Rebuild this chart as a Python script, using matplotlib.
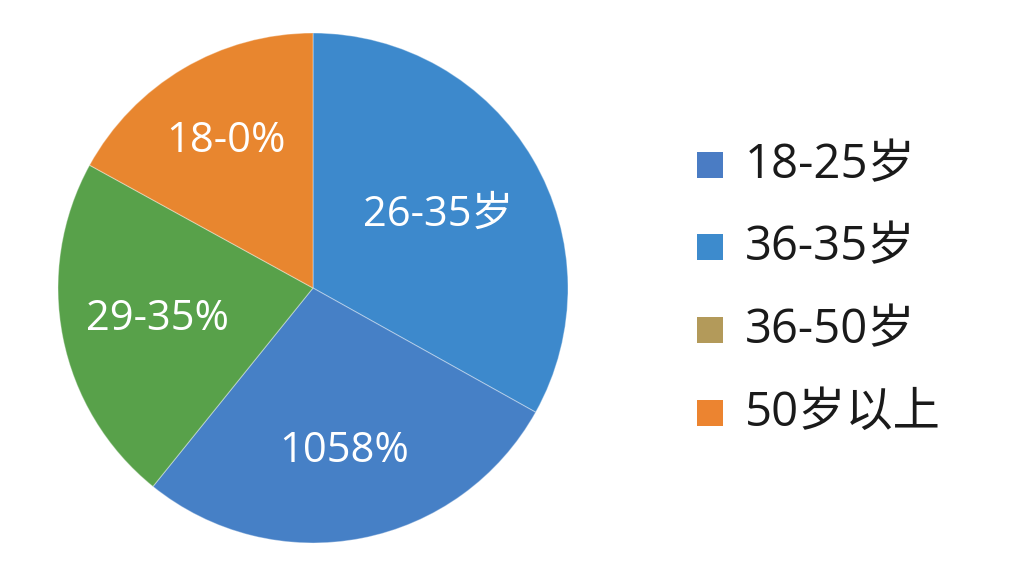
import numpy as np
import matplotlib
matplotlib.use("Agg")
import matplotlib.pyplot as plt
from matplotlib.patches import Rectangle

plt.rcParams['font.family'] = ['Open Sans', 'Noto Sans CJK SC', 'DejaVu Sans']

# Data
slice_labels = ["26-35岁", "1058%", "29-35%", "18-0%"]
slice_values = [33.1, 27.7, 22.2, 17.0]
slice_colors = ["#3d89cc", "#4680c6", "#58a14a", "#e8862f"]
label_dist = [0.57, 0.65, 0.62, 0.67]

legend_labels = ["18-25岁", "36-35岁", "36-50岁", "50岁以上"]
legend_colors = ["#4a7cc4", "#3d8bcd", "#b39a5a", "#ec8430"]

W, H = 1024, 576
fig = plt.figure(figsize=(W / 100, H / 100), dpi=100)
fig.patch.set_facecolor("white")

# pie axes: center (313, 288), radius 255 px
cx, cy, r = 313, 288, 255
ax = fig.add_axes([(cx - r) / W, (H - cy - r) / H, 2 * r / W, 2 * r / H])
wedges, _ = ax.pie(slice_values, colors=slice_colors, startangle=90,
                   counterclock=False, radius=1.0,
                   wedgeprops=dict(edgecolor=(1, 1, 1, 0.35), linewidth=0.8))
ax.set_xlim(-1, 1)
ax.set_ylim(-1, 1)
ax.set_aspect("equal")
ax.axis("off")

for w, lab, d in zip(wedges, slice_labels, label_dist):
    th = np.deg2rad((w.theta1 + w.theta2) / 2)
    ax.text(d * np.cos(th), d * np.sin(th), lab, color="white",
            fontsize=30, ha="center", va="center")

# legend drawn manually
row_y = [165, 247, 330, 413]
for y, lab, col in zip(row_y, legend_labels, legend_colors):
    fig.patches.append(Rectangle(((697) / W, (H - y - 13) / H), 26 / W, 26 / H,
                                 transform=fig.transFigure, facecolor=col,
                                 edgecolor="none"))
    fig.text(745 / W, (H - y) / H, lab, fontsize=34, color="#1a1a1a",
             ha="left", va="center")

fig.savefig("out.png", dpi=100, facecolor="white")
